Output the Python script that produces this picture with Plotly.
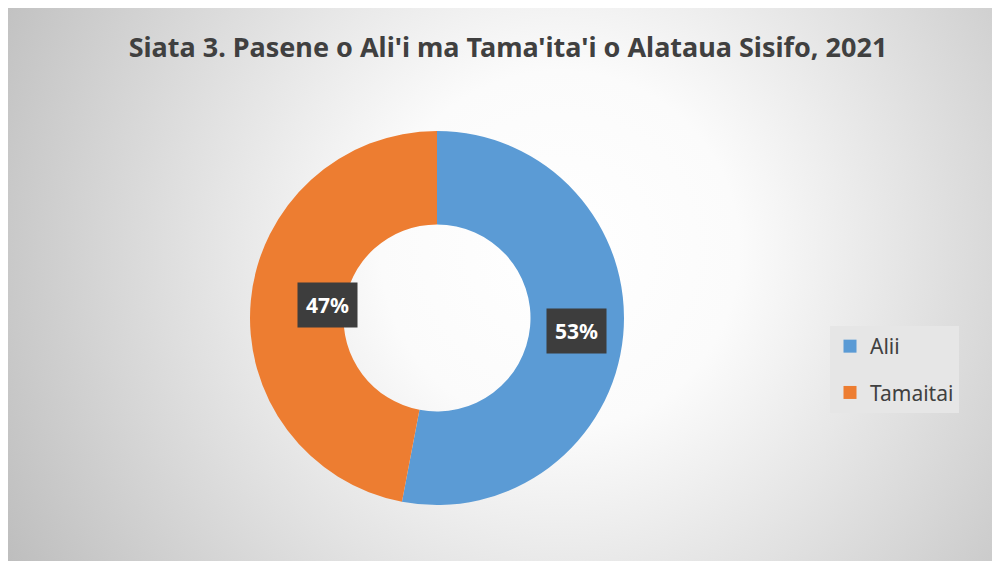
import base64
import numpy as np
import plotly.graph_objects as go

# data
labels = ["Alii", "Tamaitai"]
values = [53, 47]
colors = ["#5B9BD5", "#ED7D31"]
title = "Siata 3. Pasene o Ali'i ma Tama'ita'i o Alataua Sisifo, 2021"

W, H = 1000, 561
OFF = 8  # page body margin shifts the figure
cx, cy, r_out, hole = 437 - OFF, 318 - OFF, 187, 0.5

# radial grey background like the Excel chart area
svg = """<svg xmlns='http://www.w3.org/2000/svg' width='1000' height='561'>
<defs><radialGradient id='g' gradientUnits='userSpaceOnUse' cx='552' cy='242' r='640'>
<stop offset='0' stop-color='#ffffff'/><stop offset='0.28' stop-color='#fbfbfb'/>
<stop offset='1' stop-color='#bdbdbd'/></radialGradient></defs>
<rect width='1000' height='561' fill='url(#g)'/></svg>"""
bg_src = "data:image/svg+xml;base64," + base64.b64encode(svg.encode()).decode()

fig = go.Figure()
fig.add_trace(go.Pie(
    labels=labels, values=values, hole=hole, sort=False, direction="clockwise",
    rotation=0, marker=dict(colors=colors, line=dict(color="white", width=0)),
    textinfo="none", hoverinfo="label+percent", showlegend=False,
    domain=dict(x=[(cx - r_out) / W, (cx + r_out) / W],
                y=[(H - cy - r_out) / H, (H - cy + r_out) / H]),
))

# legend entries (separate groups so the gap can be set)
for lab, col in zip(labels, colors):
    fig.add_trace(go.Scatter(x=[None], y=[None], mode="markers", name=lab,
                             legendgroup=lab,
                             marker=dict(symbol="square", size=13, color=col)))

# percentage labels at the middle of each ring segment
pct = np.array(values) / sum(values)
mid = (np.cumsum(pct) - pct / 2) * 2 * np.pi
r_mid = r_out * (1 + hole) / 2
for p, a in zip(pct, mid):
    fig.add_annotation(
        x=(cx + r_mid * np.sin(a)) / W, y=(H - cy + r_mid * np.cos(a)) / H,
        xref="paper", yref="paper", text=f"<b>{p * 100:.0f}%</b>", showarrow=False,
        font=dict(family="Noto Sans", size=21, color="white"),
        bgcolor="#3d3d3d", borderpad=8,
    )

fig.add_layout_image(dict(source=bg_src, xref="paper", yref="paper", x=0, y=1,
                          sizex=1, sizey=1, xanchor="left", yanchor="top",
                          sizing="stretch", layer="below"))

fig.update_layout(
    width=W, height=H, margin=dict(l=0, r=0, t=0, b=0),
    paper_bgcolor="white", plot_bgcolor="rgba(0,0,0,0)",
    title=dict(text=f"<b>{title}</b>", x=(508 - OFF) / W, xanchor="center",
               y=1 - (48 - OFF) / H, yanchor="middle",
               font=dict(family="Noto Sans", size=27, color="#404040")),
    xaxis=dict(visible=False), yaxis=dict(visible=False),
    legend=dict(x=(830 - OFF) / W, y=1 - (326 - OFF) / H, xanchor="left", yanchor="top",
                bgcolor="#e6e6e6", font=dict(family="Noto Sans", size=21, color="#404040"),
                tracegroupgap=16, itemwidth=30),
)

fig.write_html("out.html")
